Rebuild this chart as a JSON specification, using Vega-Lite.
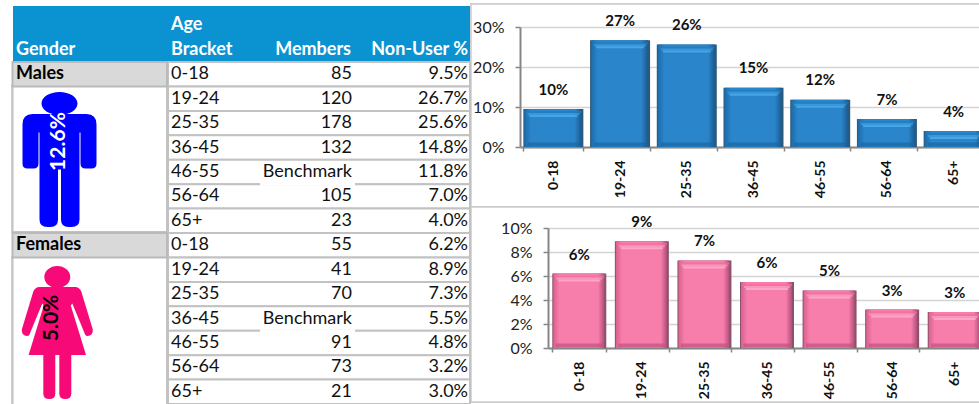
{
"$schema":"https://vega.github.io/schema/vega-lite/v6.json",
"padding":0,"background":"white","spacing":0,"bounds":"flush",
"config":{"view":{"stroke":null},"concat":{"spacing":0},"font":"Lato"},
"datasets":{"rows":[
{"row":1,"gender":"Males","age":"0-18","members":"85","nonuser":0.095},
{"row":2,"gender":"Males","age":"19-24","members":"120","nonuser":0.267},
{"row":3,"gender":"Males","age":"25-35","members":"178","nonuser":0.256},
{"row":4,"gender":"Males","age":"36-45","members":"132","nonuser":0.148},
{"row":5,"gender":"Males","age":"46-55","members":"Benchmark","nonuser":0.118},
{"row":6,"gender":"Males","age":"56-64","members":"105","nonuser":0.07},
{"row":7,"gender":"Males","age":"65+","members":"23","nonuser":0.04},
{"row":8,"gender":"Females","age":"0-18","members":"55","nonuser":0.062},
{"row":9,"gender":"Females","age":"19-24","members":"41","nonuser":0.089},
{"row":10,"gender":"Females","age":"25-35","members":"70","nonuser":0.073},
{"row":11,"gender":"Females","age":"36-45","members":"Benchmark","nonuser":0.055},
{"row":12,"gender":"Females","age":"46-55","members":"91","nonuser":0.048},
{"row":13,"gender":"Females","age":"56-64","members":"73","nonuser":0.032},
{"row":14,"gender":"Females","age":"65+","members":"21","nonuser":0.03}],
"overall":[{"gender":"Males","share":0.126},{"gender":"Females","share":0.05}]},
"hconcat":[
{"width":520,"height":404,"resolve":{"scale":{"y":"independent"}},
"layer":[
{"data":{"name":"overall"},"layer":[
{"mark":{"type":"rect","fill":"#ffffff","stroke":"#cccccc","strokeWidth":1.5},"encoding":{"x":{"datum":471,"type":"quantitative","scale":{"domain":[0,979],"range":[0,979],"nice":false,"zero":false},"axis":null},"x2":{"datum":995},"y":{"datum":4,"type":"quantitative","scale":{"domain":[0,404],"range":[0,404],"nice":false,"zero":false},"axis":null},"y2":{"datum":207}}},
{"mark":{"type":"rect","fill":"#ffffff","stroke":"#cccccc","strokeWidth":1.5},"encoding":{"x":{"datum":471,"type":"quantitative","axis":null},"x2":{"datum":995},"y":{"datum":207,"type":"quantitative","axis":null},"y2":{"datum":402}}},
{"mark":{"type":"rect","fill":"#0a93d0"},"encoding":{"x":{"datum":13,"type":"quantitative","axis":null},"x2":{"datum":470},"y":{"datum":6,"type":"quantitative","axis":null},"y2":{"datum":62}}},
{"mark":{"type":"rect","fill":"#ffffff","stroke":"#c2c2c2","strokeWidth":2},"encoding":{"x":{"datum":12.5,"type":"quantitative","axis":null},"x2":{"datum":167},"y":{"datum":85,"type":"quantitative","axis":null},"y2":{"datum":232}}},
{"mark":{"type":"rect","fill":"#ffffff","stroke":"#c2c2c2","strokeWidth":2},"encoding":{"x":{"datum":12.5,"type":"quantitative","axis":null},"x2":{"datum":167},"y":{"datum":257,"type":"quantitative","axis":null},"y2":{"datum":412}}},
{"transform":[{"filter":"datum.gender=='Males'"}],"mark":{"type":"point","filled":true,"opacity":1,"size":4,"fill":"#0000ff","strokeWidth":0,"shape":"M-27,-45.5 L27,-45.5 Q37,-45.5 37,-35 L37,4 Q37,9 32,9 L26,9 Q21,9 21,4 L21,-27 L20,-27 L20,60 Q20,67.5 12,67.5 L9,67.5 Q1.5,67.5 1.5,60 L1.5,10 L-1.5,10 L-1.5,60 Q-1.5,67.5 -9,67.5 L-12,67.5 Q-20,67.5 -20,60 L-20,-27 L-21,-27 L-21,4 Q-21,9 -26,9 L-32,9 Q-37,9 -37,4 L-37,-35 Q-37,-45.5 -27,-45.5 Z M-18,-56 A18,11.5 0 1 1 18,-56 A18,11.5 0 1 1 -18,-56 Z"},"encoding":{"x":{"datum":59.5,"type":"quantitative","axis":null},"y":{"datum":159.5,"type":"quantitative","axis":null}}},
{"transform":[{"filter":"datum.gender=='Females'"}],"mark":{"type":"point","filled":true,"opacity":1,"size":4,"fill":"#f70a78","strokeWidth":0,"shape":"M-18,-45.5 L18,-45.5 Q22,-45.5 24,-41 L35.5,-3 Q36,3 30,3.5 Q28,3.5 27,0 L15,-29 L13.5,-27 L28.7,22.5 L14,22.5 L14,61 Q14,66.5 8,66.5 Q2,66.5 2,61 L2,22.5 L-2,22.5 L-2,61 Q-2,66.5 -8,66.5 Q-14,66.5 -14,61 L-14,22.5 L-28.7,22.5 L-13.5,-27 L-15,-29 L-27,0 Q-28,3.5 -30,3.5 Q-36,3 -35.5,-3 L-24,-41 Q-22,-45.5 -18,-45.5 Z M-13,-55.5 A13,11 0 1 1 13,-55.5 A13,11 0 1 1 -13,-55.5 Z"},"encoding":{"x":{"datum":57.3,"type":"quantitative","axis":null},"y":{"datum":332.5,"type":"quantitative","axis":null}}},
{"transform":[{"filter":"datum.gender=='Males'"}],"mark":{"type":"text","angle":270,"fontSize":21,"fontWeight":"bold","fill":"#ffffff","align":"center","baseline":"middle"},"encoding":{"x":{"datum":58.5,"type":"quantitative","axis":null},"y":{"datum":141.5,"type":"quantitative","axis":null},"text":{"field":"share","format":".1%"}}},
{"transform":[{"filter":"datum.gender=='Females'"}],"mark":{"type":"text","angle":270,"fontSize":21,"fontWeight":"bold","fill":"#000000","align":"center","baseline":"middle"},"encoding":{"x":{"datum":52,"type":"quantitative","axis":null},"y":{"datum":318,"type":"quantitative","axis":null},"text":{"field":"share","format":".1%"}}}
]},
{"data":{"name":"rows"},"layer":[
{"mark":{"type":"rect","fill":"#ffffff","stroke":"#c2c2c2","strokeWidth":2},"encoding":{"x":{"datum":168,"type":"quantitative","axis":null},"x2":{"datum":470},"y":{"field":"row","type":"ordinal","scale":{"type":"band","domain":["h1","h2",1,2,3,4,5,6,7,8,9,10,11,12,13,14],"range":[13.2,404],"paddingInner":0,"paddingOuter":0},"axis":null}}},
{"transform":[{"filter":"datum.members=='Benchmark'"}],"mark":{"type":"rule","stroke":"#ffffff","strokeWidth":3},"encoding":{"x":{"datum":260,"type":"quantitative","axis":null},"x2":{"datum":355},"y":{"field":"row","type":"ordinal","bandPosition":1,"axis":null}}},
{"transform":[{"filter":"datum.age=='0-18'"}],"mark":{"type":"rect","fill":"#d9d9d9","stroke":"#bababa","strokeWidth":2},"encoding":{"x":{"datum":12.5,"type":"quantitative","axis":null},"x2":{"datum":167},"y":{"field":"row","type":"ordinal","axis":null}}},
{"transform":[{"filter":"datum.age=='0-18'"}],"mark":{"type":"text","align":"left","baseline":"middle","fontSize":18,"fontWeight":"bold","fill":"#000000"},"encoding":{"x":{"datum":16,"type":"quantitative","axis":null},"y":{"field":"row","type":"ordinal","axis":null},"text":{"field":"gender"}}},
{"mark":{"type":"text","align":"left","baseline":"middle","fontSize":18,"fill":"#111111"},"encoding":{"x":{"datum":171,"type":"quantitative","axis":null},"y":{"field":"row","type":"ordinal","axis":null},"text":{"field":"age"}}},
{"mark":{"type":"text","align":"right","baseline":"middle","fontSize":18,"fill":"#111111"},"encoding":{"x":{"datum":352,"type":"quantitative","axis":null},"y":{"field":"row","type":"ordinal","axis":null},"text":{"field":"members"}}},
{"mark":{"type":"text","align":"right","baseline":"middle","fontSize":18,"fill":"#111111"},"encoding":{"x":{"datum":468,"type":"quantitative","axis":null},"y":{"field":"row","type":"ordinal","axis":null},"text":{"field":"nonuser","format":".1%"}}},
{"data":{"values":[{"row":"h2","label":"Gender"}]},"mark":{"type":"text","align":"left","baseline":"middle","fontSize":18,"fontWeight":"bold","fill":"#ffffff"},"encoding":{"x":{"datum":16,"type":"quantitative","axis":null},"y":{"field":"row","type":"ordinal","axis":null},"text":{"field":"label"}}},
{"data":{"values":[{"row":"h1","label":"Age"},{"row":"h2","label":"Bracket"}]},"mark":{"type":"text","align":"left","baseline":"middle","fontSize":18,"fontWeight":"bold","fill":"#ffffff"},"encoding":{"x":{"datum":171,"type":"quantitative","axis":null},"y":{"field":"row","type":"ordinal","axis":null},"text":{"field":"label"}}},
{"data":{"values":[{"row":"h2","label":"Members"}]},"mark":{"type":"text","align":"right","baseline":"middle","fontSize":18,"fontWeight":"bold","fill":"#ffffff"},"encoding":{"x":{"datum":351,"type":"quantitative","axis":null},"y":{"field":"row","type":"ordinal","axis":null},"text":{"field":"label"}}},
{"data":{"values":[{"row":"h2","label":"Non-User %"}]},"mark":{"type":"text","align":"right","baseline":"middle","fontSize":18,"fontWeight":"bold","fill":"#ffffff"},"encoding":{"x":{"datum":468,"type":"quantitative","axis":null},"y":{"field":"row","type":"ordinal","axis":null},"text":{"field":"label"}}}
]}
]},
{"vconcat":[
{"width":467,"height":147,"data":{"name":"rows"},"transform":[{"filter":"datum.gender=='Males'"}],
"encoding":{"x":{"field":"age","type":"nominal","sort":null,"title":null,"scale":{"paddingInner":0.1,"paddingOuter":0.05},"axis":{"labelAngle":270,"labelFont":"Lato","labelFontWeight":"bold","labelFontSize":14,"labelColor":"#111111","labelPadding":9,"tickBand":"extent","tickColor":"#868686","tickSize":4,"tickWidth":1.5,"domainColor":"#868686","domainWidth":2}},
"y":{"field":"nonuser","type":"quantitative","title":null,"scale":{"domain":[0,0.3],"range":[147,27],"nice":false},"axis":{"values":[0,0.1,0.2,0.3],"format":".0%","labelFont":"Lato","labelFontSize":16,"labelColor":"#222222","labelPadding":11,"tickColor":"#868686","tickSize":5,"tickWidth":1.5,"domainColor":"#868686","domainWidth":2,"grid":true,"gridColor":"#d4d4d4","gridWidth":1.5}}},
"layer":[
{"mark":{"type":"bar","size":60,"color":"#2c5a7c"}},
{"mark":{"type":"bar","size":57,"xOffset":-0.5,"color":{"gradient":"linear","x1":0,"y1":0,"x2":1,"y2":0,"stops":[{"offset":0,"color":"#1b6cab"},{"offset":0.12,"color":"#2b85cb"},{"offset":0.88,"color":"#2b85cb"},{"offset":1,"color":"#1b5a8e"}]}}},
{"mark":{"type":"tick","size":56,"thickness":2,"yOffset":3,"color":"#1f7cc0"}},
{"mark":{"type":"tick","size":52,"thickness":2,"yOffset":5,"color":"#3f9fe0"}},
{"mark":{"type":"tick","size":48,"thickness":2,"yOffset":7,"color":"#55b2ec"}},
{"mark":{"type":"tick","size":52,"thickness":4,"yOffset":-2.5,"color":"#1d679f"},"encoding":{"y":{"datum":0,"type":"quantitative"}}},
{"mark":{"type":"text","fontSize":15,"fontWeight":"bold","fill":"#111111","baseline":"middle","dy":-19.5},"encoding":{"text":{"field":"nonuser","format":".0%"}}}
]},
{"hconcat":[
{"data":{"values":[]},"mark":"point","width":28,"height":201},
{"width":438,"height":201,"data":{"name":"rows"},"transform":[{"filter":"datum.gender=='Females'"}],
"encoding":{"x":{"field":"age","type":"nominal","sort":null,"title":null,"scale":{"paddingInner":0.135,"paddingOuter":0.0675},"axis":{"labelAngle":270,"labelFont":"Lato","labelFontWeight":"bold","labelFontSize":14,"labelColor":"#111111","labelPadding":9,"tickBand":"extent","tickColor":"#868686","tickSize":4,"tickWidth":1.5,"domainColor":"#868686","domainWidth":2}},
"y":{"field":"nonuser","type":"quantitative","title":null,"scale":{"domain":[0,0.1],"range":[201,81],"nice":false},"axis":{"values":[0,0.02,0.04,0.06,0.08,0.1],"format":".0%","labelFont":"Lato","labelFontSize":16,"labelColor":"#222222","labelPadding":11,"tickColor":"#868686","tickSize":5,"tickWidth":1.5,"domainColor":"#868686","domainWidth":2,"grid":true,"gridColor":"#d4d4d4","gridWidth":1.5}}},
"layer":[
{"mark":{"type":"bar","size":54,"color":"#8d5169"}},
{"mark":{"type":"bar","size":51,"xOffset":-0.5,"color":{"gradient":"linear","x1":0,"y1":0,"x2":1,"y2":0,"stops":[{"offset":0,"color":"#d9608f"},{"offset":0.12,"color":"#f77dab"},{"offset":0.88,"color":"#f77dab"},{"offset":1,"color":"#b0507a"}]}}},
{"mark":{"type":"tick","size":50,"thickness":2,"yOffset":3,"color":"#ef6fa0"}},
{"mark":{"type":"tick","size":46,"thickness":2,"yOffset":5,"color":"#f99fc2"}},
{"mark":{"type":"tick","size":42,"thickness":2,"yOffset":7,"color":"#fcb8d3"}},
{"mark":{"type":"tick","size":47,"thickness":4,"yOffset":-2.5,"color":"#c25180"},"encoding":{"y":{"datum":0,"type":"quantitative"}}},
{"mark":{"type":"text","fontSize":15,"fontWeight":"bold","fill":"#111111","baseline":"middle","dy":-19},"encoding":{"text":{"field":"nonuser","format":".0%"}}}
]}
],"spacing":0,"bounds":"flush"}
],"spacing":0,"bounds":"flush"}
]}
